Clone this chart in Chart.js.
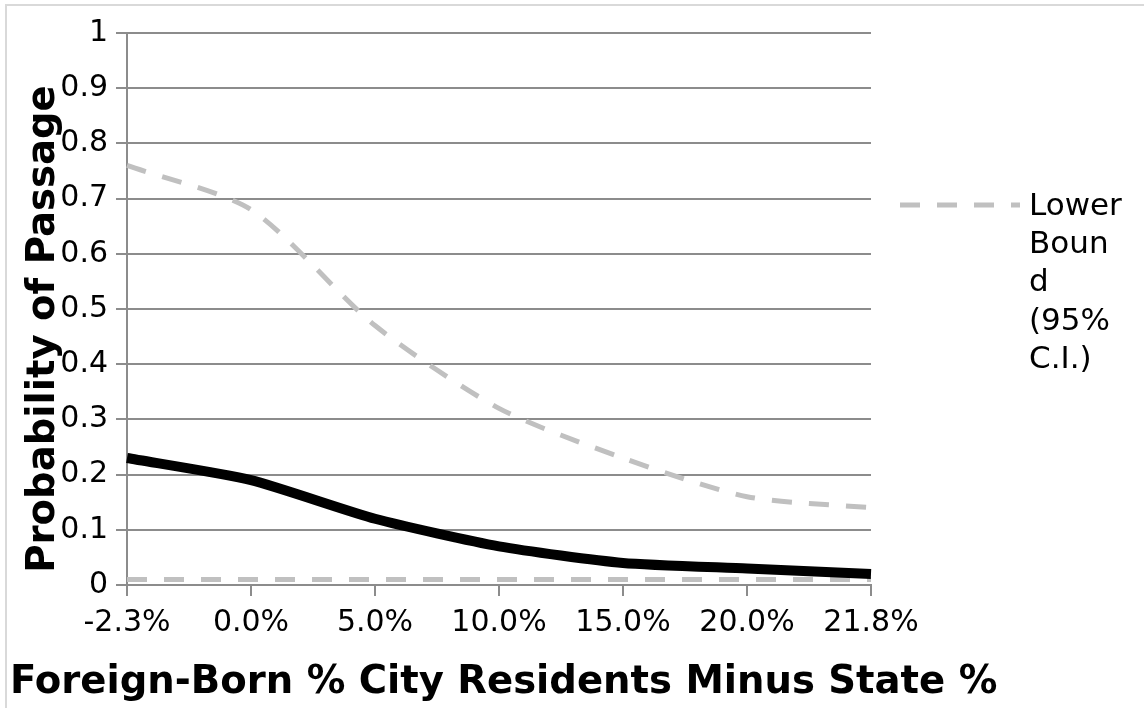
<!DOCTYPE html>
<html>
<head>
<meta charset="utf-8">
<script src="https://cdn.jsdelivr.net/npm/chart.js@4/dist/chart.umd.min.js"></script>
<style>
  html, body { margin: 0; padding: 0; background: #fff; }
  #wrap { width: 1144px; height: 708px; position: relative; }
</style>
</head>
<body>
<div id="wrap"><canvas id="c" width="1144" height="708"></canvas></div>
<script>
// Difference between city and state foreign-born share
const categories = ['-2.3%', '0.0%', '5.0%', '10.0%', '15.0%', '20.0%', '21.8%'];
// Predicted probability of passage with 95% confidence bounds
const upperBound = [0.76, 0.68, 0.47, 0.32, 0.23, 0.16, 0.14];
const predicted  = [0.23, 0.19, 0.12, 0.07, 0.04, 0.03, 0.02];
const lowerBound = [0.01, 0.01, 0.01, 0.01, 0.01, 0.01, 0.01];
const yTicks = [0, 0.1, 0.2, 0.3, 0.4, 0.5, 0.6, 0.7, 0.8, 0.9, 1];

const FONT = '"DejaVu Sans", sans-serif';
const GRID = '#8c8c8c';
const BAND = '#c0c0c0';

// Frame, axis titles and the single-entry wrapped legend
const decorations = {
  id: 'decorations',
  beforeDraw(chart) {
    const ctx = chart.ctx;
    ctx.save();
    ctx.fillStyle = '#fff';
    ctx.fillRect(0, 0, chart.width, chart.height);
    ctx.strokeStyle = '#d9d9d9';
    ctx.lineWidth = 2;
    ctx.strokeRect(6, 5, chart.width + 10, chart.height + 10);
    ctx.restore();
  },
  afterDraw(chart) {
    const ctx = chart.ctx;
    ctx.save();
    ctx.fillStyle = '#000';
    ctx.font = 'bold 38.6px ' + FONT;
    ctx.textBaseline = 'alphabetic';
    // y title
    ctx.save();
    ctx.translate(54, 329);
    ctx.rotate(-Math.PI / 2);
    ctx.textAlign = 'center';
    ctx.fillText('Probability of Passage', 0, 0);
    ctx.restore();
    // x title
    ctx.textAlign = 'left';
    ctx.fillText('Foreign-Born % City Residents Minus State %', 10, 693);

    // legend
    const ds = chart.data.datasets[2];
    ctx.strokeStyle = ds.borderColor;
    ctx.lineWidth = ds.borderWidth;
    ctx.setLineDash(ds.borderDash);
    ctx.beginPath();
    ctx.moveTo(900, 205);
    ctx.lineTo(1020, 205);
    ctx.stroke();
    ctx.setLineDash([]);
    ctx.font = '31px ' + FONT;
    ctx.textBaseline = 'middle';
    const lines = ['Lower', 'Boun', 'd', '(95%', 'C.I.)'];
    lines.forEach((t, i) => ctx.fillText(t, 1029, 207 + i * 38.2));
    ctx.restore();
  }
};

new Chart(document.getElementById('c'), {
  type: 'line',
  data: {
    labels: categories,
    datasets: [
      {
        label: 'Upper Bound (95% C.I.)',
        data: upperBound,
        borderColor: BAND,
        borderWidth: 5,
        borderDash: [20, 17],
        borderCapStyle: 'butt',
        tension: 0.25,
        pointRadius: 0
      },
      {
        label: 'Predicted Probability',
        data: predicted,
        borderColor: '#000',
        borderWidth: 10,
        tension: 0.2,
        pointRadius: 0
      },
      {
        label: 'Lower Bound (95% C.I.)',
        data: lowerBound,
        borderColor: BAND,
        borderWidth: 5,
        borderDash: [20, 17],
        borderCapStyle: 'butt',
        tension: 0,
        pointRadius: 0
      }
    ]
  },
  options: {
    responsive: false,
    animation: false,
    devicePixelRatio: 1,
    layout: { padding: { left: 0, right: 273, top: 33, bottom: 0 } },
    plugins: {
      legend: { display: false },
      tooltip: { enabled: false }
    },
    scales: {
      x: {
        offset: false,
        grid: {
          drawOnChartArea: false,
          drawTicks: true,
          tickLength: 11,
          color: GRID,
          lineWidth: 2
        },
        border: { color: GRID, width: 2 },
        ticks: {
          color: '#000',
          font: { family: FONT, size: 30 },
          padding: 9,
          maxRotation: 0,
          autoSkip: false
        },
        afterFit(scale) { scale.height = 123; }
      },
      y: {
        min: 0,
        max: 1,
        afterBuildTicks(scale) { scale.ticks = yTicks.map(v => ({ value: v })); },
        grid: {
          color: GRID,
          lineWidth: 2,
          tickLength: 11
        },
        border: { color: GRID, width: 2 },
        ticks: {
          color: '#000',
          font: { family: FONT, size: 30 },
          padding: 8,
          callback: v => String(Math.round(v * 10) / 10)
        },
        afterFit(scale) { scale.width = 127; }
      }
    }
  },
  plugins: [decorations]
});
</script>
</body>
</html>
